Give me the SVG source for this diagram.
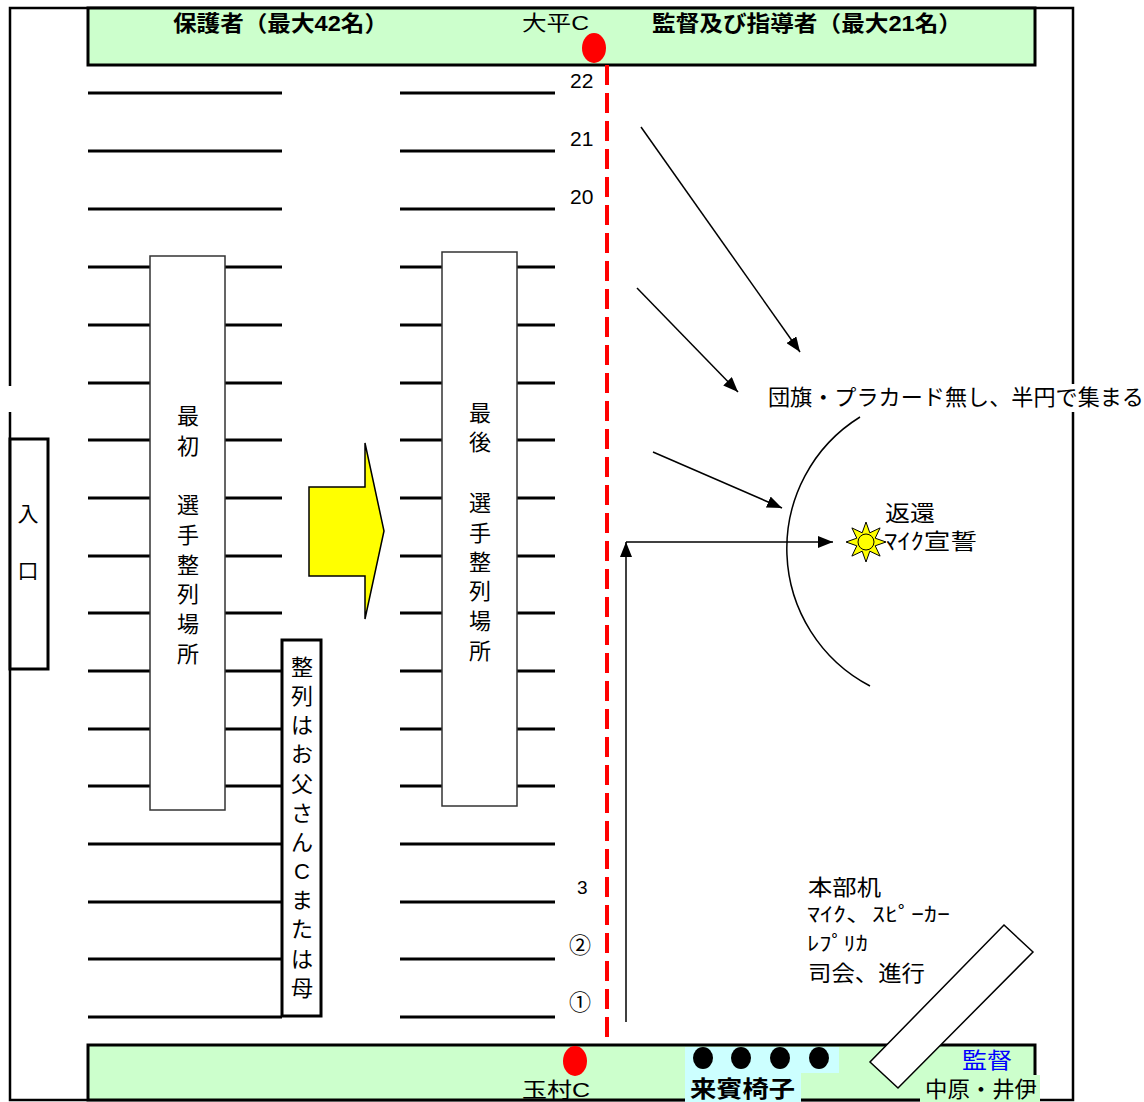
<svg xmlns="http://www.w3.org/2000/svg" width="1144" height="1102" viewBox="0 0 1144 1102">
<defs>
<style>
.t{font-family:"Liberation Sans","Noto Sans CJK JP",sans-serif;fill:#000}
.b{font-weight:bold}
.row{stroke:#000;stroke-width:3}
.arr{stroke:#000;stroke-width:1.5;fill:none;marker-end:url(#ah)}
.bar{fill:#CCFFCC;stroke:#000;stroke-width:3}
.vbox{fill:#fff;stroke:#333;stroke-width:1.5}
</style>
<marker id="ah" markerUnits="userSpaceOnUse" markerWidth="16" markerHeight="12" refX="15" refY="6" orient="auto">
<path d="M0,0 L15,6 L0,12 z" fill="#000"/>
</marker>
</defs>
<rect width="1144" height="1102" fill="#fff"/>

<g id="border">
<rect x="10" y="8" width="1063" height="1092" fill="none" stroke="#000" stroke-width="2.5"/>
<rect x="0" y="386" width="20" height="26" fill="#fff"/>
</g>

<g id="top-bar">
<rect class="bar" x="88" y="8" width="947" height="57"/>
<text class="t b" x="173" y="31" font-size="22" textLength="215" lengthAdjust="spacingAndGlyphs">保護者（最大42名）</text>
<text class="t" x="522" y="30" font-size="21" textLength="67" lengthAdjust="spacingAndGlyphs">大平C</text>
<text class="t b" x="652" y="31" font-size="22" textLength="310" lengthAdjust="spacingAndGlyphs">監督及び指導者（最大21名）</text>
</g>

<g id="bottom-bar">
<rect class="bar" x="88" y="1045" width="947" height="55"/>
<path d="M685,1047 H839 V1073 H801 V1102 H685 Z" fill="#CCFFFF"/>
<ellipse cx="703" cy="1058" rx="10" ry="11" fill="#000"/>
<ellipse cx="741" cy="1058" rx="10" ry="11" fill="#000"/>
<ellipse cx="780" cy="1058" rx="10" ry="11" fill="#000"/>
<ellipse cx="819" cy="1058" rx="10" ry="11" fill="#000"/>
<text class="t b" x="690" y="1097" font-size="23" textLength="105" lengthAdjust="spacingAndGlyphs">来賓椅子</text>
<text class="t" x="522" y="1097" font-size="21" textLength="68" lengthAdjust="spacingAndGlyphs">玉村C</text>
</g>

<g id="rows">
<line class="row" x1="88" y1="93" x2="282" y2="93"/>
<line class="row" x1="88" y1="151" x2="282" y2="151"/>
<line class="row" x1="88" y1="209" x2="282" y2="209"/>
<line class="row" x1="88" y1="267" x2="282" y2="267"/>
<line class="row" x1="88" y1="325" x2="282" y2="325"/>
<line class="row" x1="88" y1="383" x2="282" y2="383"/>
<line class="row" x1="88" y1="440" x2="282" y2="440"/>
<line class="row" x1="88" y1="498" x2="282" y2="498"/>
<line class="row" x1="88" y1="556" x2="282" y2="556"/>
<line class="row" x1="88" y1="613" x2="282" y2="613"/>
<line class="row" x1="88" y1="671" x2="282" y2="671"/>
<line class="row" x1="88" y1="729" x2="282" y2="729"/>
<line class="row" x1="88" y1="786" x2="282" y2="786"/>
<line class="row" x1="88" y1="844" x2="282" y2="844"/>
<line class="row" x1="88" y1="902" x2="282" y2="902"/>
<line class="row" x1="88" y1="959" x2="282" y2="959"/>
<line class="row" x1="88" y1="1017" x2="282" y2="1017"/>
<line class="row" x1="400" y1="93" x2="555" y2="93"/>
<line class="row" x1="400" y1="151" x2="555" y2="151"/>
<line class="row" x1="400" y1="209" x2="555" y2="209"/>
<line class="row" x1="400" y1="267" x2="555" y2="267"/>
<line class="row" x1="400" y1="325" x2="555" y2="325"/>
<line class="row" x1="400" y1="383" x2="555" y2="383"/>
<line class="row" x1="400" y1="440" x2="555" y2="440"/>
<line class="row" x1="400" y1="498" x2="555" y2="498"/>
<line class="row" x1="400" y1="556" x2="555" y2="556"/>
<line class="row" x1="400" y1="613" x2="555" y2="613"/>
<line class="row" x1="400" y1="671" x2="555" y2="671"/>
<line class="row" x1="400" y1="729" x2="555" y2="729"/>
<line class="row" x1="400" y1="786" x2="555" y2="786"/>
<line class="row" x1="400" y1="844" x2="555" y2="844"/>
<line class="row" x1="400" y1="902" x2="555" y2="902"/>
<line class="row" x1="400" y1="959" x2="555" y2="959"/>
<line class="row" x1="400" y1="1017" x2="555" y2="1017"/>
<text class="t" x="570" y="88" font-size="21">22</text>
<text class="t" x="570" y="146" font-size="21">21</text>
<text class="t" x="570" y="204" font-size="21">20</text>
<text class="t" x="577" y="894" font-size="19">3</text>
<text class="t" x="569" y="953" font-size="22">②</text>
<text class="t" x="569" y="1010" font-size="22">①</text>
</g>

<g id="entrance">
<rect x="10" y="439" width="38" height="230" fill="#fff" stroke="#000" stroke-width="3"/>
<text class="t" x="28" y="521" font-size="21" text-anchor="middle">入</text>
<text class="t" x="28" y="578" font-size="21" text-anchor="middle">口</text>
</g>

<g id="first-area">
<rect class="vbox" x="150" y="256" width="75" height="554"/>
<text class="t" font-size="22" text-anchor="middle">
<tspan x="188" y="424">最</tspan><tspan x="188" y="454">初</tspan><tspan x="188" y="513">選</tspan><tspan x="188" y="543">手</tspan><tspan x="188" y="573">整</tspan><tspan x="188" y="602">列</tspan><tspan x="188" y="632">場</tspan><tspan x="188" y="662">所</tspan>
</text>
</g>

<g id="last-area">
<rect class="vbox" x="442" y="252" width="75" height="554"/>
<text class="t" font-size="22" text-anchor="middle">
<tspan x="480" y="421">最</tspan><tspan x="480" y="450">後</tspan><tspan x="480" y="511">選</tspan><tspan x="480" y="541">手</tspan><tspan x="480" y="570">整</tspan><tspan x="480" y="599">列</tspan><tspan x="480" y="629">場</tspan><tspan x="480" y="659">所</tspan>
</text>
</g>

<g id="move-arrow">
<polygon points="309,487 365,487 365,443 384,531 365,619 365,576 309,576" fill="#FFFF00" stroke="#000" stroke-width="1.5"/>
</g>

<g id="father-note">
<rect x="282" y="640" width="39" height="376" fill="#fff" stroke="#000" stroke-width="3"/>
<text class="t" font-size="22" text-anchor="middle">
<tspan x="302" y="675">整</tspan><tspan x="302" y="704">列</tspan><tspan x="302" y="733">は</tspan><tspan x="302" y="762">お</tspan><tspan x="302" y="792">父</tspan><tspan x="302" y="821">さ</tspan><tspan x="302" y="850">ん</tspan><tspan x="302" y="879">C</tspan><tspan x="302" y="908">ま</tspan><tspan x="302" y="937">た</tspan><tspan x="302" y="967">は</tspan><tspan x="302" y="996">母</tspan>
</text>
</g>

<g id="center-line">
<line x1="607" y1="65" x2="607" y2="1045" stroke="#FF0000" stroke-width="4" stroke-dasharray="20 8"/>
<ellipse cx="594" cy="48" rx="12" ry="15" fill="#FF0000"/>
<ellipse cx="575" cy="1061" rx="12" ry="15" fill="#FF0000"/>
</g>

<g id="connectors">
<line class="arr" x1="641" y1="127" x2="800" y2="352"/>
<line class="arr" x1="637" y1="288" x2="738" y2="392"/>
<line class="arr" x1="653" y1="452" x2="782" y2="508"/>
<line class="arr" x1="626" y1="1022" x2="626" y2="542"/>
<line class="arr" x1="626" y1="542" x2="833" y2="542"/>
</g>

<g id="gathering">
<rect x="765" y="384" width="379" height="28" fill="#fff"/>
<text class="t" x="768" y="405" font-size="22" textLength="376" lengthAdjust="spacingAndGlyphs">団旗・プラカード無し、半円で集まる</text>
<path d="M860,417 A155,155 0 0,0 870,686" fill="none" stroke="#000" stroke-width="1.5"/>
</g>

<g id="oath">
<polygon points="866,522 869.8,532.8 880.1,527.9 875.2,538.2 886,542 875.2,545.8 880.1,556.1 869.8,551.2 866,562 862.2,551.2 851.9,556.1 856.8,545.8 846,542 856.8,538.2 851.9,527.9 862.2,532.8" fill="#FFFF00" stroke="#000" stroke-width="1"/>
<circle cx="866" cy="542" r="8" fill="#FFFF00" stroke="#000" stroke-width="1"/>
<text class="t" x="885" y="521" font-size="22" textLength="50" lengthAdjust="spacingAndGlyphs">返還</text>
<text class="t" x="884" y="549" font-size="22" textLength="93" lengthAdjust="spacingAndGlyphs">ﾏｲｸ宣誓</text>
</g>

<g id="hq">
<text class="t" x="808" y="895" font-size="22" textLength="73" lengthAdjust="spacingAndGlyphs">本部机</text>
<text class="t" x="807" y="922" font-size="20" textLength="143" lengthAdjust="spacingAndGlyphs">ﾏｲｸ、ｽﾋﾟｰｶｰ</text>
<text class="t" x="807" y="951" font-size="20" textLength="61" lengthAdjust="spacingAndGlyphs">ﾚﾌﾟﾘｶ</text>
<text class="t" x="808" y="981" font-size="22" textLength="117" lengthAdjust="spacingAndGlyphs">司会、進行</text>
<polygon points="1004,925 1033,952 898,1088 870,1062" fill="#fff" stroke="#000" stroke-width="1.5"/>
</g>

<g id="coach">
<rect x="920" y="1075" width="120" height="27" fill="#CCFFCC"/>
<text class="t" x="962" y="1068" font-size="22" style="fill:#0000FF" textLength="50" lengthAdjust="spacingAndGlyphs">監督</text>
<text class="t" x="925" y="1097" font-size="22" textLength="112" lengthAdjust="spacingAndGlyphs">中原・井伊</text>
</g>
</svg>
